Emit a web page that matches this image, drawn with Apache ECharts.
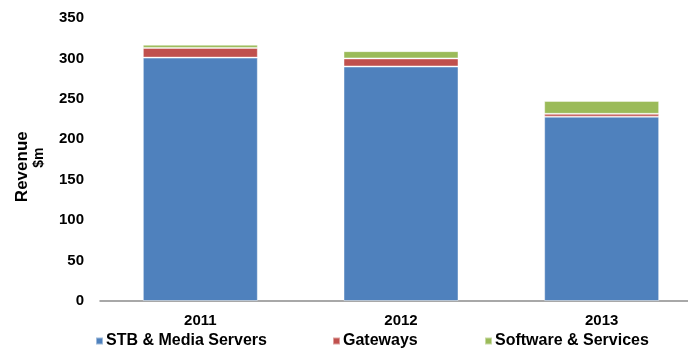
<!DOCTYPE html>
<html>
<head>
<meta charset="utf-8">
<script src="https://cdn.jsdelivr.net/npm/echarts@6/dist/echarts.min.js"></script>
<style>
  html, body { margin: 0; padding: 0; background: #fff; overflow: hidden; width: 688px; height: 348px; }
  /* plot area runs slightly past the right edge of the page */
  #chart { width: 702px; height: 348px; }
</style>
</head>
<body>
<div id="chart"></div>
<script>
// Revenue by segment ($m)
const years = ['2011', '2012', '2013'];
const stbMediaServers = [301, 290, 228];
const gateways = [12, 10, 3.5];
const softwareServices = [4, 9, 16];
const yTicks = [0, 50, 100, 150, 200, 250, 300, 350];

const seriesNames = ['STB & Media Servers', 'Gateways', 'Software & Services'];
const seriesColors = ['#4F81BD', '#C0504D', '#9BBB59'];
const seriesData = [stbMediaServers, gateways, softwareServices];
const legendLefts = [95, 332, 484];

const font = '"Liberation Sans", Arial, sans-serif';

const chart = echarts.init(document.getElementById('chart'), null, { renderer: 'canvas' });

chart.setOption({
  animation: false,
  textStyle: { fontFamily: font },
  grid: { left: 100, top: 18, right: 0, height: 283, containLabel: false },
  legend: seriesNames.map((name, i) => ({
    left: legendLefts[i],
    top: 333,
    padding: 0,
    itemWidth: 7,
    itemHeight: 7,
    icon: 'rect',
    textStyle: { fontFamily: font, fontSize: 16, fontWeight: 'bold', color: '#000', padding: [0, 0, 0, -2] },
    data: [name]
  })),
  xAxis: {
    type: 'category',
    data: years,
    axisLine: { lineStyle: { color: '#8c8c8c', width: 1.5 } },
    axisTick: { show: false },
    axisLabel: { fontFamily: font, fontSize: 15, fontWeight: 'bold', color: '#000', margin: 12 }
  },
  yAxis: {
    type: 'value',
    min: yTicks[0],
    max: yTicks[yTicks.length - 1],
    interval: yTicks[1] - yTicks[0],
    axisLine: { show: false },
    axisTick: { show: false },
    splitLine: { show: false },
    axisLabel: { fontFamily: font, fontSize: 15, fontWeight: 'bold', color: '#000', margin: 16 }
  },
  graphic: [
    {
      type: 'text',
      x: 22.5, y: 166.7,
      rotation: Math.PI / 2,
      style: { text: 'Revenue', font: 'bold 17px ' + font, fill: '#000', align: 'center', verticalAlign: 'middle' }
    },
    {
      type: 'text',
      x: 39, y: 157.7,
      rotation: Math.PI / 2,
      style: { text: '$m', font: 'bold 14px ' + font, fill: '#000', align: 'center', verticalAlign: 'middle' }
    }
  ],
  series: seriesNames.map((name, i) => ({
    name,
    type: 'bar',
    stack: 'revenue',
    barWidth: 115,
    data: seriesData[i],
    itemStyle: { color: seriesColors[i], borderColor: 'rgba(255,255,255,0.45)', borderWidth: 1 }
  }))
});
</script>
</body>
</html>
